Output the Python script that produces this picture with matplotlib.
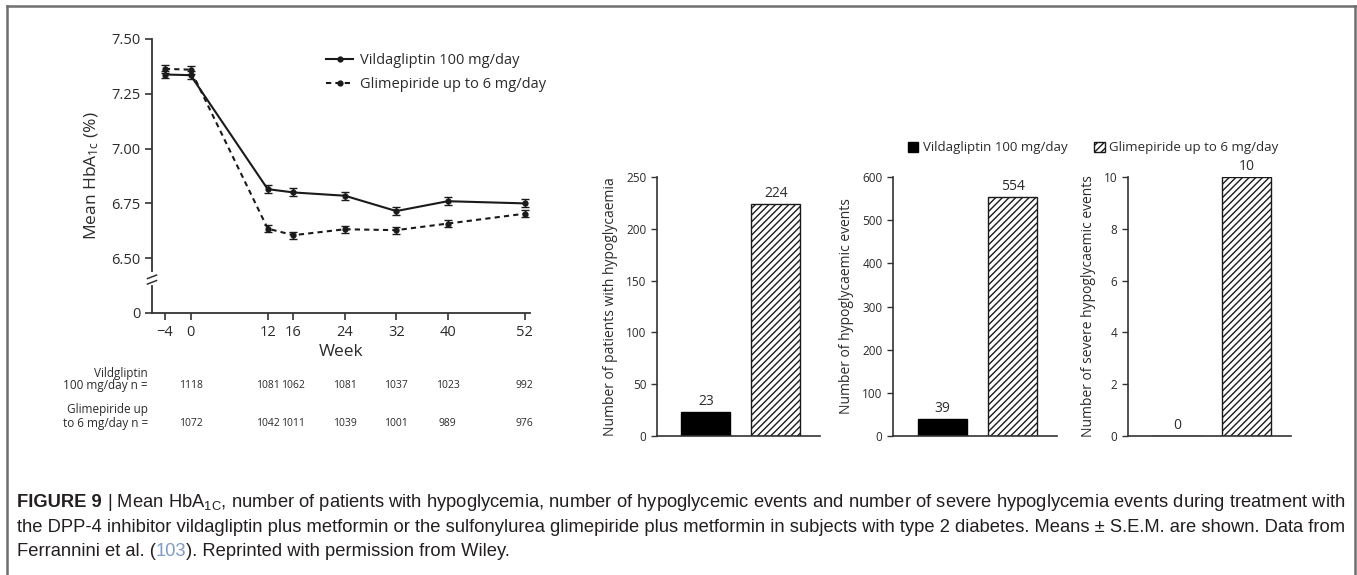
import matplotlib
matplotlib.use("Agg")
import matplotlib.pyplot as plt
from matplotlib.lines import Line2D
from matplotlib.patches import Patch

# ---- data ----
weeks = [-4, 0, 12, 16, 24, 32, 40, 52]
vilda_mean = [7.338, 7.335, 6.815, 6.800, 6.785, 6.715, 6.760, 6.750]
glime_mean = [7.364, 7.360, 6.635, 6.605, 6.632, 6.628, 6.658, 6.703]
vilda_sem = [0.018, 0.018, 0.018, 0.018, 0.018, 0.018, 0.018, 0.018]
glime_sem = [0.018, 0.018, 0.016, 0.016, 0.016, 0.016, 0.016, 0.016]
vilda_n = [1118, None, 1081, 1062, 1081, 1037, 1023, 992]
glime_n = [1072, None, 1042, 1011, 1039, 1001, 989, 976]
n_weeks = [0, None, 12, 16, 24, 32, 40, 52]
y_ticks = [6.25, 6.50, 6.75, 7.00, 7.25, 7.50]
y_ticklabels = ["0", "6.50", "6.75", "7.00", "7.25", "7.50"]

groups = ["Vildagliptin 100 mg/day", "Glimepiride up to 6 mg/day"]
patients_hypo = [23, 224]
events_hypo = [39, 554]
events_severe = [0, 10]

plt.rcParams["font.family"] = ["Open Sans", "DejaVu Sans"]
plt.rcParams["mathtext.default"] = "regular"
TXT = "#2b2b2b"

W, H = 1357, 575
fig = plt.figure(figsize=(W / 100, H / 100), dpi=100)


def box(x0, y0, x1, y1):
    return [x0 / W, 1 - y1 / H, (x1 - x0) / W, (y1 - y0) / H]


# ---- left: HbA1c time course ----
ax = fig.add_axes(box(152, 39, 530, 313))
ax.errorbar(weeks, vilda_mean, yerr=vilda_sem, color="#1a1a1a", lw=1.5, ls="-",
            marker="o", ms=3.5, capsize=3, elinewidth=1, capthick=1)
ax.errorbar(weeks, glime_mean, yerr=glime_sem, color="#1a1a1a", lw=1.5, ls=(0, (2.5, 2)),
            marker="o", ms=3.5, capsize=3, elinewidth=1, capthick=1)
ax.set_xlim(-6, 52.8)
ax.set_ylim(6.25, 7.5)
ax.set_yticks(y_ticks)
ax.set_yticklabels(y_ticklabels)
ax.set_xticks(weeks)
ax.set_xticklabels([str(w).replace("-", "\u2212") for w in weeks])
for s in ("top", "right"):
    ax.spines[s].set_visible(False)
for s in ("left", "bottom"):
    ax.spines[s].set_color("#333333")
    ax.spines[s].set_linewidth(1.3)
ax.tick_params(colors="#333333", labelcolor=TXT, labelsize=10.5, length=5, width=1.2)
ax.set_xlabel("Week", fontsize=12.5, color=TXT, labelpad=3)
ax.set_ylabel("Mean HbA$_{1c}$ (%)", fontsize=12.5, color=TXT, labelpad=7)

# axis break marks
ax.plot([0, 0], [6.385, 6.43], transform=ax.get_yaxis_transform(), color="white", lw=3,
        clip_on=False, zorder=5)
for yb in (6.39, 6.415):
    ax.plot([-0.012, 0.012], [yb - 0.008, yb + 0.008], transform=ax.get_yaxis_transform(),
            color="#333333", lw=1.1, clip_on=False, zorder=6)

leg_handles = [
    Line2D([], [], color="#1a1a1a", lw=1.5, marker="o", ms=3.5),
    Line2D([], [], color="#1a1a1a", lw=1.5, ls=(0, (2.5, 2)), marker="o", ms=3.5),
]
ax.legend(leg_handles, groups, loc="upper left", bbox_to_anchor=(313 / W, 1 - 40 / H),
          bbox_transform=fig.transFigure, frameon=False, fontsize=10.5, handlelength=1.85,
          handletextpad=0.5, labelspacing=0.6, labelcolor=TXT)

# n table under the axis
tr = ax.get_xaxis_transform()
for lbl, yy in (("Vildgliptin", 373), ("100 mg/day n =", 386),
                ("Glimepiride up", 410), ("to 6 mg/day n =", 423)):
    fig.text(148 / W, 1 - yy / H, lbl, ha="right", va="center", fontsize=8.5, color=TXT)
for wk, nv, ng in zip(n_weeks, vilda_n, glime_n):
    if wk is None:
        continue
    ax.text(wk, -(386 - 313) / 274, str(nv), transform=tr, ha="center", va="center",
            fontsize=7.5, color=TXT)
    ax.text(wk, -(423 - 313) / 274, str(ng), transform=tr, ha="center", va="center",
            fontsize=7.5, color=TXT)

# ---- right: bar panels ----
panels = [
    (box(657, 177, 820, 436), patients_hypo, 250, [0, 50, 100, 150, 200, 250],
     "Number of patients with hypoglycaemia"),
    (box(893, 177, 1057, 436), events_hypo, 600, [0, 100, 200, 300, 400, 500, 600],
     "Number of hypoglycaemic events"),
    (box(1128, 177, 1291, 436), events_severe, 10, [0, 2, 4, 6, 8, 10],
     "Number of severe hypoglycaemic events"),
]
xpos = [0.7, 1.7]
for rect, vals, top, ticks, lab in panels:
    b = fig.add_axes(rect)
    b.bar(xpos[0], vals[0], width=0.7, color="black", edgecolor="black", lw=1)
    b.bar(xpos[1], vals[1], width=0.7, color="white", edgecolor="#1a1a1a", hatch="/////", lw=1)
    for x, v in zip(xpos, vals):
        b.text(x, v + top * 0.012, str(v), ha="center", va="bottom", fontsize=10, color=TXT)
    b.set_xlim(0, 2.33)
    b.set_ylim(0, top)
    b.set_yticks(ticks)
    b.set_xticks([])
    for s in ("top", "right"):
        b.spines[s].set_visible(False)
    for s in ("left", "bottom"):
        b.spines[s].set_color("#333333")
        b.spines[s].set_linewidth(1.2)
    b.tick_params(colors="#333333", labelcolor=TXT, labelsize=8.5, length=4, width=1)
    b.set_ylabel(lab, fontsize=10, color=TXT, labelpad=6)

fig.legend([Patch(facecolor="black", edgecolor="black"),
            Patch(facecolor="white", edgecolor="#1a1a1a", hatch="/////")],
           groups, loc="center right", bbox_to_anchor=(1285 / W, 1 - 148 / H), ncol=2,
           frameon=False, fontsize=9.5, handlelength=0.8, handleheight=0.8,
           columnspacing=2.0, handletextpad=0.35, borderpad=0, labelcolor=TXT)

# ---- frame ----
fc = "#6f6f6f"
fig.add_artist(Line2D([7 / W, 1355 / W], [1 - 6 / H, 1 - 6 / H], color=fc, lw=1.8))
fig.add_artist(Line2D([7 / W, 7 / W], [0, 1 - 6 / H], color=fc, lw=1.8))
fig.add_artist(Line2D([1355 / W, 1355 / W], [0, 1 - 6 / H], color=fc, lw=1.8))

# ---- caption ----
cap_font = ["Liberation Sans", "DejaVu Sans"]
renderer = fig.canvas.get_renderer()


def run(pieces, x0, y):
    x = x0
    for s, kw in pieces:
        opts = dict(va="baseline", ha="left", fontsize=13.2, family=cap_font, color="#231f20")
        opts.update(kw)
        t = fig.text(x / W, 1 - y / H, s, **opts)
        x += t.get_window_extent(renderer).width
    return x


run([("FIGURE 9", {"weight": "bold"}), (" | Mean HbA$_{1C}$, number of patients with hypoglycemia, "
     "number of hypoglycemic events and number of severe hypoglycemia events during treatment with", {})],
    17, 507)
run([("the DPP-4 inhibitor vildagliptin plus metformin or the sulfonylurea glimepiride plus metformin "
      "in subjects with type 2 diabetes. Means \u00b1 S.E.M. are shown. Data from", {})], 17, 532)
run([("Ferrannini et al. (", {}), ("103", {"color": "#7e9cc4"}),
     ("). Reprinted with permission from Wiley.", {})], 17, 556)

fig.savefig("out.png", dpi=100)
